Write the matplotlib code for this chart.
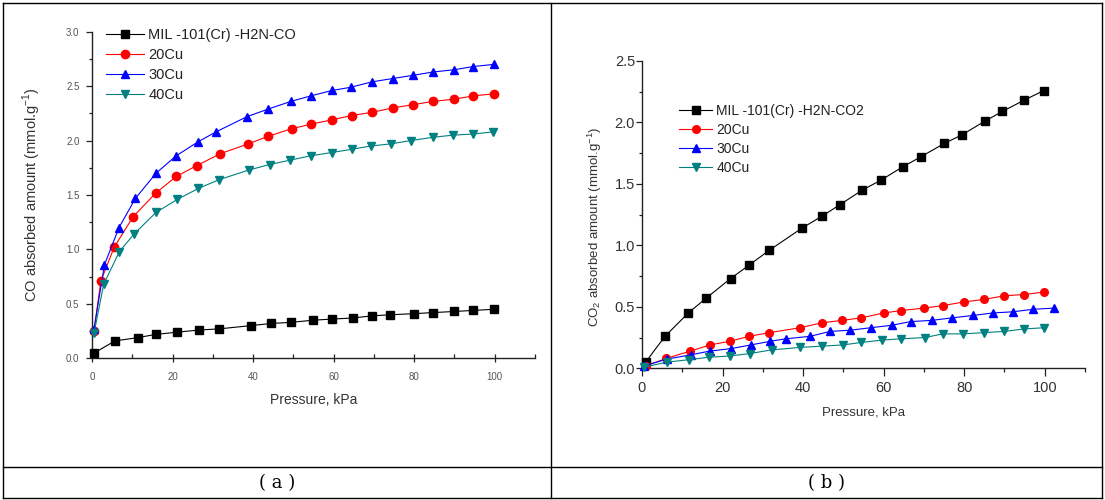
"""
CO / CO2 adsorption isotherms - two panels in a table frame
"""
import matplotlib
matplotlib.use('Agg')
import matplotlib.pyplot as plt
from matplotlib.lines import Line2D
from matplotlib.ticker import MultipleLocator

plt.rcParams['font.family'] = ['Liberation Sans', 'DejaVu Sans']
plt.rcParams['mathtext.fontset'] = 'custom'
plt.rcParams['mathtext.rm'] = 'Liberation Sans'

# ==================== data: (a) CO ====================
a_labels = ['MIL -101(Cr) -H2N-CO', '20Cu', '30Cu', '40Cu']

a_base_x = [0.6, 5.7, 11.4, 15.9, 21.2, 26.6, 31.5, 39.4, 44.5, 49.4, 54.9,
            59.5, 64.7, 69.6, 74.1, 80.0, 84.7, 90.0, 94.7, 99.8]
a_base_y = [0.05, 0.16, 0.19, 0.22, 0.24, 0.26, 0.27, 0.30, 0.32, 0.33, 0.35,
            0.36, 0.37, 0.39, 0.40, 0.41, 0.42, 0.43, 0.44, 0.45]

a_20_x = [0.5, 2.2, 5.5, 10.2, 15.9, 20.9, 26.0, 31.9, 38.8, 43.8, 49.7,
          54.3, 59.5, 64.5, 69.6, 74.7, 79.8, 84.7, 89.8, 94.7, 99.8]
a_20_y = [0.25, 0.71, 1.02, 1.30, 1.52, 1.67, 1.77, 1.88, 1.97, 2.04, 2.11,
          2.15, 2.19, 2.23, 2.26, 2.30, 2.33, 2.36, 2.38, 2.41, 2.43]

a_30_x = [0.5, 3.1, 6.7, 10.8, 15.9, 20.9, 26.4, 30.8, 38.5, 43.8, 49.4,
          54.3, 59.6, 64.3, 69.6, 74.7, 79.8, 84.7, 89.8, 94.7, 99.8]
a_30_y = [0.27, 0.86, 1.20, 1.47, 1.70, 1.86, 1.99, 2.08, 2.22, 2.29, 2.36,
          2.41, 2.46, 2.49, 2.54, 2.57, 2.60, 2.63, 2.65, 2.68, 2.70]

a_40_x = [0.5, 2.9, 6.8, 10.4, 15.9, 21.2, 26.4, 31.5, 39.0, 44.1, 49.2,
          54.3, 59.5, 64.5, 69.2, 74.3, 79.1, 84.7, 89.6, 94.7, 99.6]
a_40_y = [0.23, 0.68, 0.98, 1.14, 1.34, 1.46, 1.56, 1.64, 1.73, 1.78, 1.82,
          1.86, 1.89, 1.92, 1.95, 1.97, 2.00, 2.03, 2.05, 2.06, 2.08]

# ==================== data: (b) CO2 ====================
b_labels = ['MIL -101(Cr) -H2N-CO2', '20Cu', '30Cu', '40Cu']

b_base_x = [0.9, 5.7, 11.5, 15.9, 22.0, 26.6, 31.6, 39.7, 44.8, 49.1, 54.7,
            59.3, 64.8, 69.2, 75.1, 79.5, 85.1, 89.5, 94.8, 99.8]
b_base_y = [0.05, 0.26, 0.45, 0.57, 0.73, 0.84, 0.96, 1.14, 1.24, 1.33, 1.45,
            1.53, 1.64, 1.72, 1.83, 1.90, 2.01, 2.09, 2.18, 2.26]

b_20_x = [0.9, 6.0, 12.0, 16.9, 21.8, 26.6, 31.6, 39.3, 44.6, 49.7, 54.4,
          60.0, 64.4, 70.0, 74.7, 80.0, 84.8, 90.0, 94.8, 99.8]
b_20_y = [0.02, 0.08, 0.14, 0.19, 0.22, 0.26, 0.29, 0.33, 0.37, 0.39, 0.41,
          0.45, 0.47, 0.49, 0.51, 0.54, 0.56, 0.59, 0.60, 0.62]

b_30_x = [0.6, 6.2, 12.2, 16.8, 22.1, 27.0, 31.9, 35.7, 41.7, 46.7, 51.7,
          56.8, 62.0, 66.7, 72.0, 76.9, 82.2, 87.1, 92.2, 97.1, 102.4]
b_30_y = [0.02, 0.075, 0.11, 0.14, 0.16, 0.19, 0.22, 0.24, 0.26, 0.30, 0.31,
          0.33, 0.35, 0.38, 0.39, 0.41, 0.43, 0.45, 0.46, 0.48, 0.49]

b_40_x = [0.6, 6.2, 11.6, 16.6, 21.8, 26.8, 32.2, 39.3, 44.6, 49.9, 54.4,
          59.7, 64.4, 70.2, 74.7, 79.7, 84.9, 90.0, 94.8, 99.8]
b_40_y = [0.01, 0.05, 0.07, 0.09, 0.10, 0.12, 0.15, 0.17, 0.18, 0.19, 0.21,
          0.23, 0.24, 0.25, 0.28, 0.28, 0.29, 0.30, 0.32, 0.33]

colors = ['black', '#ff0000', '#0000ff', '#008080']
markers = ['s', 'o', '^', 'v']

W, H = 1105, 500
fig = plt.figure(figsize=(W / 100, H / 100), dpi=100)


def px_axes(left, top, right, bottom):
    # axes box given in pixel coords (origin top-left)
    return fig.add_axes([left / W, 1 - bottom / H, (right - left) / W, (bottom - top) / H])


def style_axes(ax, tick_size, ytop, x_major_dir, x_minor_dir, tick_color):
    ax.spines['top'].set_visible(False)
    ax.spines['right'].set_visible(False)
    for s in ['left', 'bottom']:
        ax.spines[s].set_linewidth(1.0)
        ax.spines[s].set_color('#222222')
    ax.set_xlim(0, 110)
    ax.set_ylim(0, ytop)
    ax.set_xticks([0, 20, 40, 60, 80, 100])
    ax.xaxis.set_minor_locator(MultipleLocator(10))
    ax.yaxis.set_major_locator(MultipleLocator(0.5))
    ax.yaxis.set_minor_locator(MultipleLocator(0.25))
    ax.tick_params(axis='x', which='major', direction=x_major_dir, length=6, width=0.9,
                   labelsize=tick_size, labelcolor=tick_color, color='#222222')
    ax.tick_params(axis='x', which='minor', direction=x_minor_dir, length=3, width=0.9,
                   color='#222222')
    ax.tick_params(axis='y', which='major', direction='out', length=4, width=0.9,
                   labelsize=tick_size, labelcolor=tick_color, color='#222222')
    ax.tick_params(axis='y', which='minor', direction='out', length=2.5, width=0.9,
                   color='#222222')
    ax.yaxis.set_major_formatter(plt.FuncFormatter(lambda v, p: f'{v:.1f}'))


# ==================== (a) ====================
ax1 = px_axes(92, 31.7, 535, 358.3)
series_a = [(a_base_x, a_base_y), (a_20_x, a_20_y), (a_30_x, a_30_y), (a_40_x, a_40_y)]
for (xs, ys), c, m, lab in zip(series_a, colors, markers, a_labels):
    ax1.plot(xs, ys, color=c, marker=m, markersize=6, linewidth=0.8, label=lab,
             clip_on=False, zorder=3)
style_axes(ax1, 7, 3.0, 'inout', 'in', '#555555')
ax1.tick_params(axis='x', which='major', pad=7)
ax1.tick_params(axis='y', which='major', pad=5)
ax1.set_xlabel('Pressure, kPa', fontsize=10, color='#333333')
ax1.set_ylabel(r'CO absorbed amount (mmol.g$^{\mathregular{-1}}$)', fontsize=10.5, color='#333333')
ax1.xaxis.set_label_coords(0.5, -0.105)
ax1.yaxis.set_label_coords(-0.11, 0.5)
ax1.legend(loc='upper left', bbox_to_anchor=(106 / W, 1 - 28 / H), bbox_transform=fig.transFigure,
           frameon=False, fontsize=10.5, handlelength=2.6, handletextpad=0.3,
           labelspacing=0.42, borderpad=0, borderaxespad=0, numpoints=1,
           labelcolor='#222222')

# ==================== (b) ====================
ax2 = px_axes(642, 61, 1085, 368.3)
series_b = [(b_base_x, b_base_y), (b_20_x, b_20_y), (b_30_x, b_30_y), (b_40_x, b_40_y)]
for (xs, ys), c, m, lab in zip(series_b, colors, markers, b_labels):
    ax2.plot(xs, ys, color=c, marker=m, markersize=5.5, linewidth=0.8, label=lab,
             clip_on=False, zorder=3)
style_axes(ax2, 10.5, 2.5, 'out', 'out', '#333333')
ax2.tick_params(axis='x', which='major', pad=3)
ax2.tick_params(axis='y', which='major', pad=1)
ax2.set_xlabel('Pressure, kPa', fontsize=9.5, color='#333333')
ax2.set_ylabel(r'CO$_{\mathregular{2}}$ absorbed amount (mmol.g$^{\mathregular{-1}}$)',
               fontsize=9.5, color='#333333')
ax2.xaxis.set_label_coords(0.5, -0.125)
ax2.yaxis.set_label_coords(-0.085, 0.46)
ax2.legend(loc='upper left', bbox_to_anchor=(679 / W, 1 - 104 / H), bbox_transform=fig.transFigure,
           frameon=False, fontsize=10, handlelength=2.4, handletextpad=0.3,
           labelspacing=0.36, borderpad=0, borderaxespad=0, numpoints=1,
           labelcolor='#222222')

# ==================== table frame + captions ====================
def hline(y, x0=3, x1=1102):
    fig.add_artist(Line2D([x0 / W, x1 / W], [1 - y / H, 1 - y / H], color='black',
                          linewidth=1.0, transform=fig.transFigure))


def vline(x, y0=3, y1=498):
    fig.add_artist(Line2D([x / W, x / W], [1 - y0 / H, 1 - y1 / H], color='black',
                          linewidth=1.0, transform=fig.transFigure))


hline(3)
hline(467)
hline(498)
vline(3)
vline(551)
vline(1102)

cap_font = ['DejaVu Serif']
fig.text(277 / W, 1 - 483 / H, '( a )', ha='center', va='center', fontsize=13, family=cap_font)
fig.text(827 / W, 1 - 483 / H, '( b )', ha='center', va='center', fontsize=13, family=cap_font)

plt.savefig('out.png', dpi=100)
plt.close()
